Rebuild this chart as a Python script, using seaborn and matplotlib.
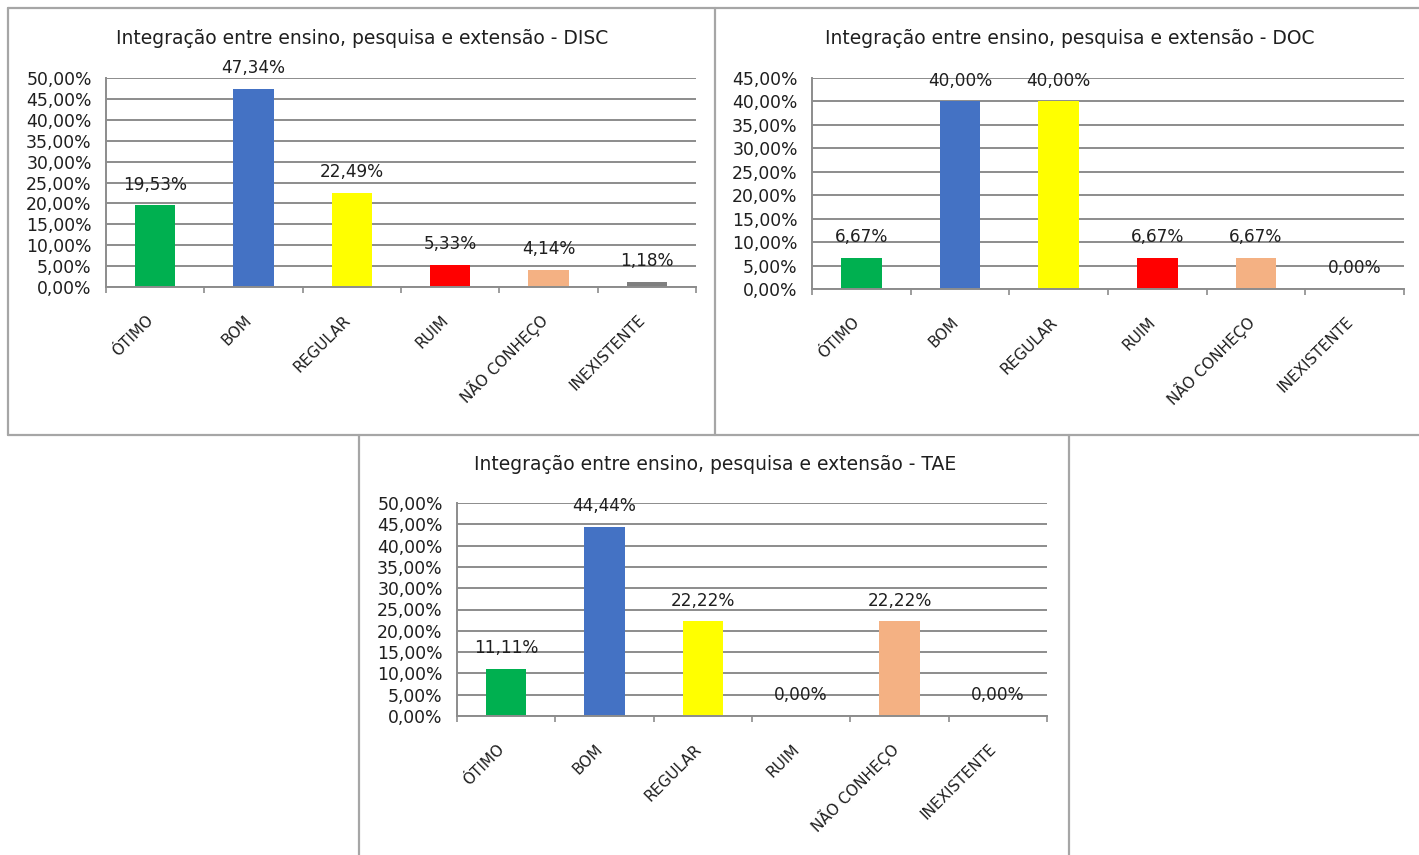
import matplotlib
matplotlib.use("Agg")
import matplotlib.pyplot as plt
import matplotlib.transforms as mtransforms
from matplotlib.lines import Line2D
import seaborn as sns

# Response categories (x axis)
categorias = ["ÓTIMO", "BOM", "REGULAR", "RUIM", "NÃO CONHEÇO", "INEXISTENTE"]

# Percentages per group
disc = [19.53, 47.34, 22.49, 5.33, 4.14, 1.18]
doc = [6.67, 40.00, 40.00, 6.67, 6.67, 0.00]
tae = [11.11, 44.44, 22.22, 0.00, 22.22, 0.00]

grupos = ["DISC", "DOC", "TAE"]
titulo_base = "Integração entre ensino, pesquisa e extensão - "

cores = ["#00B050", "#4472C4", "#FFFF00", "#FF0000", "#F4B183", "#7F7F7F"]

sns.set_theme(style="white")
plt.rcParams["font.family"] = ["DejaVu Sans"]

W, H = 1419, 855
DPI = 100
fig = plt.figure(figsize=(W / DPI, H / DPI), dpi=DPI)
fig.patch.set_facecolor("white")

GRID = "#8C8C8C"
TXT = "#1F1F1F"
BORDER = "#A6A6A6"


def px_axes(left, right, top, bottom):
    return fig.add_axes([left / W, 1 - bottom / H, (right - left) / W, (bottom - top) / H])


def fmt(v):
    return f"{v:.2f}%".replace(".", ",")


def draw_chart(ax, valores, ymax, titulo, title_xy):
    sns.barplot(x=categorias, y=valores, hue=categorias, palette=cores,
                saturation=1, width=0.41, legend=False, linewidth=0, ax=ax)
    ax.set_xlim(-0.5, len(categorias) - 0.5)
    ax.set_ylim(0, ymax)
    ticks = list(range(0, int(ymax) + 1, 5))
    ax.set_yticks(ticks)
    ax.set_yticklabels([fmt(t) for t in ticks], color=TXT, fontsize=12.4)
    ax.set_xlabel("")
    ax.set_ylabel("")
    ax.set_facecolor("white")

    # horizontal gridlines
    ax.yaxis.grid(True, color=GRID, linewidth=1.4)
    ax.xaxis.grid(False)
    ax.set_axisbelow(True)

    for side in ("top", "right"):
        ax.spines[side].set_visible(False)
    for side in ("left", "bottom"):
        ax.spines[side].set_color(GRID)
        ax.spines[side].set_linewidth(1.4)

    ax.tick_params(axis="y", which="major", direction="out", length=4.3,
                   width=1.2, color=GRID, pad=6)
    # category boundary ticks
    ax.set_xticks([i - 0.5 for i in range(len(categorias) + 1)], minor=True)
    ax.tick_params(axis="x", which="minor", direction="out", length=4.5,
                   width=1.2, color=GRID, bottom=True)
    ax.set_xticks(range(len(categorias)))
    ax.set_xticklabels(categorias, rotation=45, ha="right", va="center",
                       rotation_mode="anchor", color=TXT, fontsize=11)
    ax.tick_params(axis="x", which="major", length=0, pad=22)
    shift = mtransforms.ScaledTranslation(-4 / DPI, 0, fig.dpi_scale_trans)
    for lab in ax.get_xticklabels():
        lab.set_transform(lab.get_transform() + shift)

    # value labels above bars
    for i, v in enumerate(valores):
        ax.annotate(fmt(v), (i, v), xytext=(0, 15), textcoords="offset points",
                    ha="center", va="center", color=TXT, fontsize=12.2)

    fig.text(title_xy[0] / W, 1 - title_xy[1] / H, titulo, ha="center",
             va="center", color=TXT, fontsize=13.5)


ax1 = px_axes(106, 696, 78, 287)
draw_chart(ax1, disc, 50, titulo_base + grupos[0], (362, 39))

ax2 = px_axes(812, 1404, 78, 289)
draw_chart(ax2, doc, 45, titulo_base + grupos[1], (1070, 39))

ax3 = px_axes(457, 1047, 503, 716)
draw_chart(ax3, tae, 50, titulo_base + grupos[2], (715, 464))


# chart frames
def seg(x0, y0, x1, y1):
    fig.add_artist(Line2D([x0 / W, x1 / W], [1 - y0 / H, 1 - y1 / H],
                          transform=fig.transFigure, color=BORDER, linewidth=1.6))


seg(8, 8, W, 8)
seg(8, 8, 8, 435)
seg(715, 8, 715, 435)
seg(8, 435, W, 435)
seg(359, 435, 359, H)
seg(1069, 435, 1069, H)

fig.savefig("out.png", dpi=DPI, facecolor="white")
